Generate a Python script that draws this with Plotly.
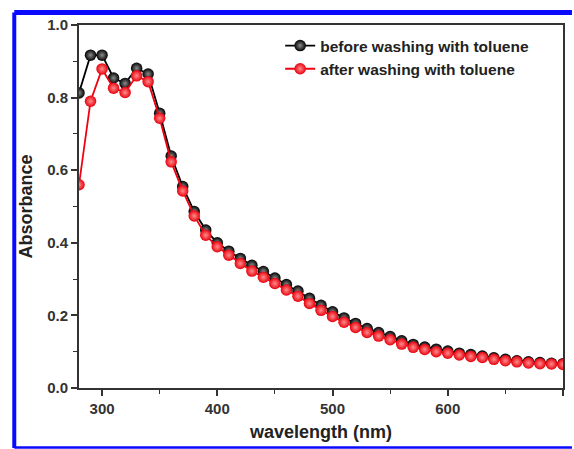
import plotly.graph_objects as go

wavelength = list(range(280, 701, 10))
before = [0.813, 0.917, 0.917, 0.854, 0.839, 0.881, 0.865, 0.757, 0.639, 0.555,
          0.486, 0.435, 0.400, 0.377, 0.357, 0.338, 0.321, 0.303, 0.285, 0.267,
          0.247, 0.228, 0.210, 0.193, 0.178, 0.164, 0.153, 0.142, 0.130, 0.120,
          0.113, 0.107, 0.102, 0.096, 0.092, 0.088, 0.083, 0.079, 0.075, 0.072,
          0.070, 0.068, 0.067]
after = [0.560, 0.790, 0.879, 0.826, 0.814, 0.860, 0.844, 0.743, 0.623, 0.543,
         0.474, 0.421, 0.389, 0.366, 0.343, 0.322, 0.305, 0.288, 0.270, 0.253,
         0.233, 0.214, 0.197, 0.181, 0.167, 0.153, 0.143, 0.133, 0.121, 0.112,
         0.106, 0.100, 0.096, 0.091, 0.087, 0.084, 0.079, 0.075, 0.072, 0.069,
         0.067, 0.066, 0.065]
series_names = ["before washing with toluene", "after washing with toluene"]

FONT = "Liberation Sans, Arial, sans-serif"

fig = go.Figure()
fig.add_trace(go.Scatter(
    x=wavelength, y=before, name=series_names[0], mode="lines+markers",
    line=dict(color="#000000", width=1.8),
    marker=dict(size=11.5, color="#000000", line=dict(width=0),
                gradient=dict(type="radial", color="#8c8c8c")),
))
fig.add_trace(go.Scatter(
    x=wavelength, y=after, name=series_names[1], mode="lines+markers",
    line=dict(color="#f00010", width=1.8),
    marker=dict(size=11.5, color="#e8000c", line=dict(width=0),
                gradient=dict(type="radial", color="#ff8c8c")),
))

L, R, T, B = 79, 9, 25, 61
W, H = 574, 449
pw, ph = W - L - R, H - T - B

def px(xp):
    return (xp - L) / pw

def py(yp):
    return (H - B - yp) / ph

blue = "#0a0aff"
fig.add_shape(type="line", xref="paper", yref="paper",
              x0=px(14), x1=px(574), y0=py(12.5), y1=py(12.5),
              line=dict(color=blue, width=5))
fig.add_shape(type="line", xref="paper", yref="paper",
              x0=px(14), x1=px(14), y0=py(12.5), y1=py(448),
              line=dict(color=blue, width=4))
fig.add_shape(type="line", xref="paper", yref="paper",
              x0=px(14), x1=px(574), y0=py(447.5), y1=py(447.5),
              line=dict(color=blue, width=2.5))

axis_common = dict(
    showline=True, linecolor="#333333", linewidth=1.8, mirror=True,
    ticks="outside", ticklen=6, tickwidth=1.6, tickcolor="#333333",
    showgrid=False, zeroline=False,
    tickfont=dict(family=FONT, size=15, color="#333333", weight="bold"),
)

fig.update_xaxes(
    range=[280, 700], tickvals=[300, 400, 500, 600, 700],
    minor=dict(ticks="outside", ticklen=4, tickwidth=1.4, tickcolor="#333333",
               tickvals=[350, 450, 550, 650]),
    title=dict(text="wavelength (nm)", standoff=9,
               font=dict(family=FONT, size=18, color="#222222", weight="bold")),
    **axis_common,
)
fig.update_yaxes(
    range=[0, 1.0], tickvals=[0, 0.2, 0.4, 0.6, 0.8, 1.0], tickformat=".1f",
    minor=dict(ticks="outside", ticklen=4, tickwidth=1.4, tickcolor="#333333",
               tickvals=[0.1, 0.3, 0.5, 0.7, 0.9]),
    title=dict(text="Absorbance", standoff=10,
               font=dict(family=FONT, size=18, color="#222222", weight="bold")),
    **axis_common,
)

fig.update_layout(
    width=W, height=H,
    margin=dict(l=L, r=R, t=T, b=B),
    paper_bgcolor="white", plot_bgcolor="white",
    showlegend=True,
    legend=dict(x=px(281), y=py(29), xanchor="left", yanchor="top",
                bgcolor="rgba(0,0,0,0)", borderwidth=0,
                font=dict(family=FONT, size=15.5, color="#222222", weight="bold"),
                tracegroupgap=0, itemwidth=30),
)

fig.write_html("out.html")
